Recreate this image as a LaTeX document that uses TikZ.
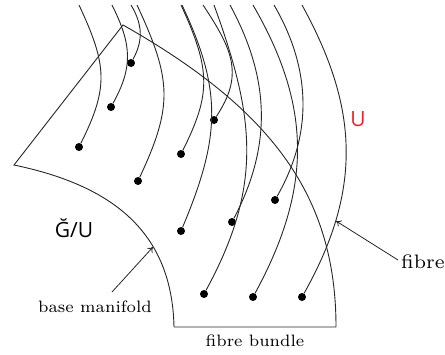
\documentclass[tikz,border=0pt]{standalone}
\usepackage{fontspec}
\newfontfamily\sansU{Open Sans}
\newfontfamily\lmseven{lmroman7-regular.otf}
\usetikzlibrary{arrows.meta}
\definecolor{ured}{RGB}{232,35,45}
\begin{document}
\begin{tikzpicture}[x=1pt,y=-1pt,
  fib/.style={line width=0.9pt, black!85},
  bnd/.style={line width=0.9pt, black!85},
  dot/.style={circle, fill=black, inner sep=0pt, minimum size=8pt},
  lbl/.style={font=\lmseven\fontsize{16.5}{18}\selectfont, inner sep=0pt},
  sanslbl/.style={font=\sansU\fontsize{21}{24}\selectfont, inner sep=0pt, anchor=base},
  ptr/.style={line width=0.8pt, black!85, -{To[length=5pt,width=7pt]}}]
\useasboundingbox (0,0) rectangle (445,354);
% base manifold / fibre bundle outline
\coordinate (bL) at (14,165);
\coordinate (bT) at (123,25);
\coordinate (bR) at (336,327);
\coordinate (bB) at (174,327);
\draw[bnd] (bB) .. controls (172,230) and (110,185) .. (bL) -- (bT)
  .. controls (273,110) and (336,197) .. (bR) -- (bB);
% fibre tops
\coordinate (t1) at (79,5);
\coordinate (t2) at (112,5);
\coordinate (t3) at (131,5);
\coordinate (t4) at (137,5);
\coordinate (t5) at (181,5);
\coordinate (t6) at (203,5);
\coordinate (t7) at (182,5);
\coordinate (t8) at (214,5);
\coordinate (t9) at (230,5);
\coordinate (t10) at (253,5);
\coordinate (t11) at (274,5);
\coordinate (t12) at (302,5);
% dots
\node[dot] (d1) at (79,147) {};
\node[dot] (d2) at (111,107) {};
\node[dot] (d3) at (131,63) {};
\node[dot] (d4) at (138,181) {};
\node[dot] (d5) at (181,154) {};
\node[dot] (d6) at (214,120) {};
\node[dot] (d7) at (181,231) {};
\node[dot] (d8) at (204,294) {};
\node[dot] (d9) at (232,222) {};
\node[dot] (d10) at (253,297) {};
\node[dot] (d11) at (275,200) {};
\node[dot] (d12) at (302,297) {};
% fibres
\draw[fib] (t1) .. controls +(28,60) and +(30,-60) .. (d1);
\draw[fib] (t2) .. controls +(20,40) and +(22,-40) .. (d2);
\draw[fib] (t3) .. controls +(12,20) and +(12,-22) .. (d3);
\draw[fib] (t4) .. controls +(35,75) and +(35,-75) .. (d4);
\draw[fib] (t5) .. controls +(30,65) and +(30,-60) .. (d5);
\draw[fib] (t6) .. controls +(30,45) and +(30,-45) .. (d6);
\draw[fib] (t7) .. controls +(40,85) and +(40,-95) .. (d7);
\draw[fib] (t8) .. controls +(40,110) and +(60,-110) .. (d8);
\draw[fib] (t9) .. controls +(38,70) and +(42,-80) .. (d9);
\draw[fib] (t10) .. controls +(58,100) and +(60,-110) .. (d10);
\draw[fib] (t11) .. controls +(35,60) and +(40,-70) .. (d11);
\draw[fib] (t12) .. controls +(55,100) and +(62,-110) .. (d12);
% labels
\node[sanslbl] (gu) at (74,237) {Ğ/U};
\node[sanslbl, text=ured] (u) at (358,126) {U};
\node[lbl] (bm) at (95,307) {base manifold};
\node[lbl] (fb) at (255,341) {fibre bundle};
\node[lbl, anchor=west, font=\lmseven\fontsize{19.5}{21}\selectfont] (fl) at (401,262) {fibre};
% pointers
\coordinate (bmtail) at (112,292);
\coordinate (bmtip) at (153,247);
\draw[ptr] (bmtail) -- (bmtip);
\coordinate (ftail) at (398,260);
\coordinate (ftip) at (336,221);
\draw[ptr] (ftail) -- (ftip);
\end{tikzpicture}
\end{document}
